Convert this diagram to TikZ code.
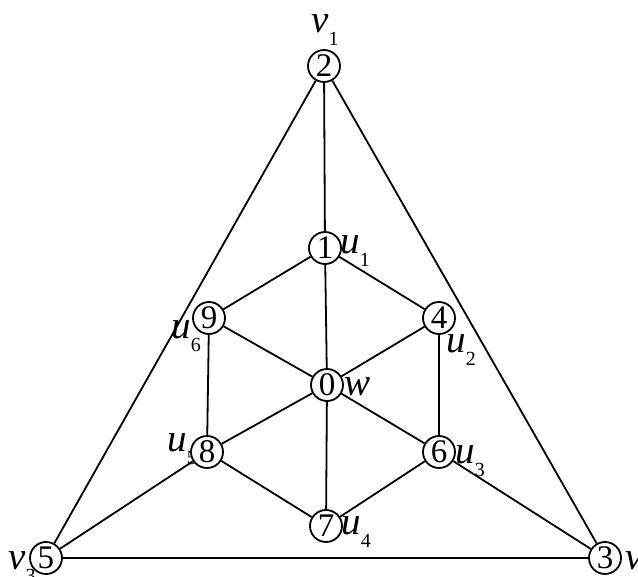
\documentclass[tikz,border=0pt]{standalone}
\usepackage{fontspec}
\setmainfont{Liberation Serif}
\newcommand{\vlab}[2]{\textit{#1}\raisebox{-0.32em}{\fontsize{20}{20}\selectfont #2}}
\tikzset{
	vert/.style={circle,draw,line width=1.8pt,fill=white,inner sep=0pt,minimum size=32pt,font=\fontsize{33}{33}\selectfont},
	lab/.style={inner sep=0pt,font=\fontsize{39}{39}\selectfont}
}

\begin{document}
\begin{tikzpicture}[x=1pt,y=-1pt,line width=1.8pt]
	\useasboundingbox (0,0) rectangle (638,577);
%
	% labels first, the circles cover them
	\node[lab] (lv1) at (325,30) {\vlab{v}{1}};
	\node[lab] (lu1) at (355,251) {\vlab{u}{1}};
	\node[lab] (lu6) at (186,336) {\vlab{u}{6}};
	\node[lab] (lu2) at (461,350) {\vlab{u}{2}};
	\node[lab] (lw) at (358,387) {\textit{w}};
	\node[lab] (lu5) at (182,449) {\vlab{u}{5}};
	\node[lab] (lu3) at (470,461) {\vlab{u}{3}};
	\node[lab] (lu4) at (356,532) {\vlab{u}{4}};
	\node[lab] (lv3) at (22,567) {\vlab{v}{3}};
	\node[lab] (lv2) at (639,567) {\vlab{v}{2}};
%
	\node[vert] (n2) at (324,66) {2};
	\node[vert] (n1) at (325,248) {1};
	\node[vert] (n9) at (209,318) {9};
	\node[vert] (n4) at (439,318) {4};
	\node[vert] (n0) at (327,385) {0};
	\node[vert] (n8) at (207,452) {8};
	\node[vert] (n6) at (439,452) {6};
	\node[vert] (n7) at (326,526) {7};
	\node[vert] (n5) at (46,558) {5};
	\node[vert] (n3) at (605,558) {3};
%
	\draw (n2) -- (n1);
	\draw (n2) -- (n5);
	\draw (n2) -- (n3);
	\draw (n5) -- (n3);
	\draw (n1) -- (n9);
	\draw (n1) -- (n4);
	\draw (n1) -- (n0);
	\draw (n9) -- (n0);
	\draw (n9) -- (n8);
	\draw (n4) -- (n0);
	\draw (n4) -- (n6);
	\draw (n0) -- (n8);
	\draw (n0) -- (n6);
	\draw (n0) -- (n7);
	\draw (n8) -- (n7);
	\draw (n6) -- (n7);
	\draw (n5) -- (n8);
	\draw (n3) -- (n6);
\end{tikzpicture}
\end{document}
